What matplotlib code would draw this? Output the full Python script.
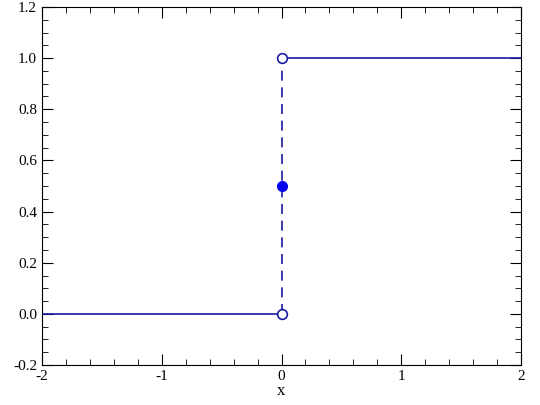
import matplotlib
matplotlib.use("Agg")
import matplotlib.pyplot as plt
from matplotlib.ticker import MultipleLocator

plt.rcParams['font.family'] = ['Liberation Serif', 'DejaVu Serif']
plt.rcParams['axes.unicode_minus'] = False

left_x = [-2, 0]; left_y = [0, 0]
right_x = [0, 2]; right_y = [1, 1]
jump_x = [0, 0]; jump_y = [0, 1]
open_x = [0, 0]; open_y = [0, 1]
mid_x = [0]; mid_y = [0.5]

fig = plt.figure(figsize=(5.4, 4.05), dpi=100)
ax = fig.add_axes([42/540, 40/405, 479/540, 358/405])
c = '#1a1aa0'
ax.plot(left_x, left_y, color=c, lw=1.2)
ax.plot(right_x, right_y, color=c, lw=1.2)
ax.plot(jump_x, jump_y, color=c, lw=1.2, ls=(0, (6, 4)))
ax.plot(open_x, open_y, 'o', mfc='white', mec=c, ms=7, mew=1.2, zorder=3)
ax.plot(mid_x, mid_y, 'o', color='#0000ee', ms=7, zorder=3)
ax.set_xlim(-2, 2); ax.set_ylim(-0.2, 1.2)
ax.xaxis.set_major_locator(MultipleLocator(1))
ax.xaxis.set_minor_locator(MultipleLocator(0.2))
ax.yaxis.set_major_locator(MultipleLocator(0.2))
ax.yaxis.set_minor_locator(MultipleLocator(0.05))
ax.set_yticks(ax.get_yticks())
ax.set_yticklabels([f"{v:.1f}" for v in ax.get_yticks()])
ax.set_ylim(-0.2, 1.2)
ax.tick_params(which='both', direction='in', top=True, right=True, labelsize=11)
ax.tick_params(which='major', length=8)
ax.tick_params(which='minor', length=4)
ax.set_xlabel('x', fontsize=12, labelpad=0)
fig.savefig('out.png')
